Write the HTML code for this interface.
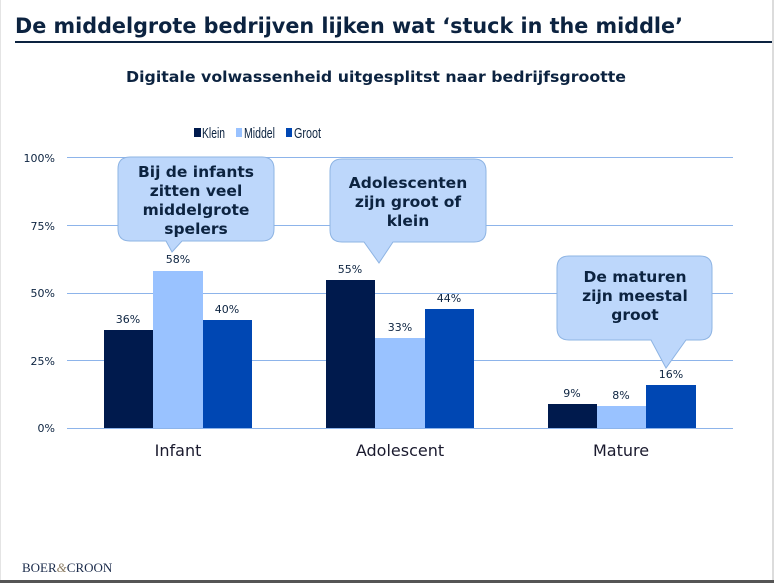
<!DOCTYPE html>
<html><head><meta charset="utf-8"><style>
html,body{margin:0;padding:0;background:#fff;}
svg{display:block;font-family:"DejaVu Sans",Verdana,sans-serif;}
</style></head><body>
<svg width="774" height="583" viewBox="0 0 774 583" xmlns="http://www.w3.org/2000/svg">
<rect x="0" y="0" width="774" height="583" fill="#fff"/>
<line x1="0.5" y1="0" x2="0.5" y2="583" stroke="#e4e4e4"/>
<rect x="772" y="0" width="2" height="583" fill="#dcdcdc"/>
<rect x="0" y="580" width="774" height="3" fill="#555"/>
<text x="15" y="33" font-size="21" font-weight="bold" fill="#0c2340" textLength="668" lengthAdjust="spacingAndGlyphs">De middelgrote bedrijven lijken wat ‘stuck in the middle’</text>
<rect x="15" y="41" width="757" height="2" fill="#0c2340"/>
<text x="376" y="82" font-size="15" font-weight="bold" fill="#0c2340" text-anchor="middle" textLength="500" lengthAdjust="spacingAndGlyphs">Digitale volwassenheid uitgesplitst naar bedrijfsgrootte</text>
<g font-size="15" fill="#0c2340" font-family="Liberation Sans, sans-serif">
<rect x="194" y="128" width="7" height="9" fill="#001a4d"/><text x="202" y="138" textLength="23" lengthAdjust="spacingAndGlyphs">Klein</text>
<rect x="236" y="128" width="6" height="9" fill="#99c2ff"/><text x="244" y="138" textLength="31" lengthAdjust="spacingAndGlyphs">Middel</text>
<rect x="286" y="128" width="6" height="9" fill="#0047b3"/><text x="294" y="138" textLength="27" lengthAdjust="spacingAndGlyphs">Groot</text>
</g>
<g stroke="#8db4ea" stroke-width="1">
<line x1="67" y1="157.5" x2="733" y2="157.5"/>
<line x1="67" y1="225.5" x2="733" y2="225.5"/>
<line x1="67" y1="293.5" x2="733" y2="293.5"/>
<line x1="67" y1="360.5" x2="733" y2="360.5"/>
<line x1="67" y1="428.5" x2="733" y2="428.5"/>
</g>
<g font-size="11" fill="#0c2340" text-anchor="end">
<text x="55" y="162">100%</text><text x="55" y="230">75%</text><text x="55" y="297">50%</text><text x="55" y="365">25%</text><text x="55" y="432">0%</text>
</g>
<g>
<rect x="104" y="330" width="49" height="98" fill="#001a4d"/>
<rect x="153" y="271" width="50" height="157" fill="#99c2ff"/>
<rect x="203" y="320" width="49" height="108" fill="#0047b3"/>
<rect x="326" y="280" width="49" height="148" fill="#001a4d"/>
<rect x="375" y="338" width="50" height="90" fill="#99c2ff"/>
<rect x="425" y="309" width="49" height="119" fill="#0047b3"/>
<rect x="548" y="404" width="49" height="24" fill="#001a4d"/>
<rect x="597" y="406" width="49" height="22" fill="#99c2ff"/>
<rect x="646" y="385" width="50" height="43" fill="#0047b3"/>
</g>
<g font-size="11" fill="#0c2340" text-anchor="middle">
<text x="128" y="323">36%</text><text x="178" y="263">58%</text><text x="227" y="313">40%</text>
<text x="350" y="273">55%</text><text x="400" y="331">33%</text><text x="449" y="302">44%</text>
<text x="572" y="397">9%</text><text x="621" y="399">8%</text><text x="671" y="378">16%</text>
</g>
<g font-size="16" fill="#1a1a2e" text-anchor="middle">
<text x="178" y="456">Infant</text><text x="400" y="456">Adolescent</text><text x="621" y="456">Mature</text>
</g>
<g fill="#bdd7fb" stroke="#8eb4e3" stroke-width="1">
<path d="M130,157 H262 Q274,157 274,169 V229 Q274,241 262,241 H182 L172,252 L166,241 H130 Q118,241 118,229 V169 Q118,157 130,157 Z"/>
<path d="M342,159 H474 Q486,159 486,171 V230 Q486,242 474,242 H393 L379,263 L364,242 H342 Q330,242 330,230 V171 Q330,159 342,159 Z"/>
<path d="M569,256 H700 Q712,256 712,268 V328 Q712,340 700,340 H686 L666,368 L651,340 H569 Q557,340 557,328 V268 Q557,256 569,256 Z"/>
</g>
<g font-size="15.5" font-weight="bold" fill="#0c2340" text-anchor="middle">
<text x="196" y="177">Bij de infants</text>
<text x="196" y="196">zitten veel</text>
<text x="196" y="215">middelgrote</text>
<text x="196" y="234">spelers</text>
<text x="408" y="188">Adolescenten</text>
<text x="408" y="207">zijn groot of</text>
<text x="408" y="226">klein</text>
<text x="635" y="282">De maturen</text>
<text x="635" y="301">zijn meestal</text>
<text x="635" y="320">groot</text>
</g>
<text x="22" y="572" font-family="Liberation Serif,serif" font-size="13" fill="#1a2a4a">BOER<tspan fill="#8a7a60" font-style="italic">&amp;</tspan>CROON</text>
</svg>
</body></html>
